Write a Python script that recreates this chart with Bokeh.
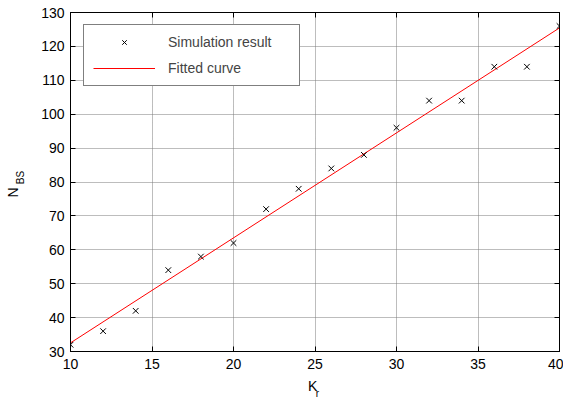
import numpy as np
from bokeh.plotting import figure
from bokeh.models import (Range1d, LinearAxis, Legend, LegendItem,
                          FixedTicker, CustomJSTickFormatter)
from bokeh.embed import file_html
from bokeh.resources import INLINE

# ---- data ----
kr = [10, 12, 14, 16, 18, 20, 22, 24, 26, 28, 30, 32, 34, 36, 38, 40]
nbs = [32, 36, 42, 54, 58, 62, 72, 78, 84, 88, 96, 104, 104, 114, 114, 126]
x_ticks = [10, 15, 20, 25, 30, 35, 40]
y_ticks = [30, 40, 50, 60, 70, 80, 90, 100, 110, 120, 130]

coef = np.polyfit(kr, nbs, 1)
fit_x = [kr[0], kr[-1]]
fit_y = [float(np.polyval(coef, v)) for v in fit_x]

FONT = "Liberation Sans"

p = figure(frame_width=489, frame_height=339, output_backend="svg",
           toolbar_location=None, x_range=Range1d(10, 40), y_range=Range1d(30, 130),
           min_border_left=70, min_border_top=12, min_border_right=4,
           min_border_bottom=50)
p.background_fill_color = "white"
p.border_fill_color = "white"
p.outline_line_color = "black"
p.outline_line_width = 1

for ax in (p.xaxis[0], p.yaxis[0]):
    ax.major_tick_in = 5
    ax.major_tick_out = 0
    ax.minor_tick_line_color = None
    ax.axis_line_color = "black"
    ax.major_label_text_font = FONT
    ax.major_label_text_font_size = "14px"
    ax.major_label_text_color = "black"
p.xaxis[0].ticker = FixedTicker(ticks=x_ticks)
p.yaxis[0].ticker = FixedTicker(ticks=y_ticks)
p.xaxis[0].major_label_standoff = 7
p.yaxis[0].major_label_standoff = 6

top = LinearAxis(ticker=FixedTicker(ticks=x_ticks), major_tick_in=5, major_tick_out=0,
                 minor_tick_line_color=None,
                 major_label_overrides={t: "" for t in x_ticks},
                 major_label_standoff=0, axis_line_color="black")
right = LinearAxis(ticker=FixedTicker(ticks=y_ticks), major_tick_in=5, major_tick_out=0,
                   minor_tick_line_color=None,
                   major_label_overrides={t: "" for t in y_ticks},
                   major_label_standoff=0, axis_line_color="black")
p.add_layout(top, "above")
p.add_layout(right, "right")


def label_axis(text, pos, size, standoff, vertical):
    ax = LinearAxis(ticker=FixedTicker(ticks=[pos]),
                    formatter=CustomJSTickFormatter(code="return '%s';" % text),
                    axis_line_color=None, major_tick_line_color=None,
                    minor_tick_line_color=None, major_tick_in=0, major_tick_out=0,
                    major_label_standoff=standoff,
                    major_label_text_font=FONT, major_label_text_font_size=size,
                    major_label_text_color="black")
    if vertical:
        ax.major_label_orientation = "vertical"
    return ax


# y label N_BS : subscript column first (closer to frame), then N
p.add_layout(label_axis("BS", 81.3, "10px", 12, True), "left")
p.add_layout(label_axis("N", 76.9, "14px", -9, True), "left")
# x label K_r
p.add_layout(label_axis("K", 24.85, "14px", 6, False), "below")
p.add_layout(label_axis("r", 25.15, "10px", -9, False), "below")

p.xgrid.ticker = FixedTicker(ticks=x_ticks)
p.ygrid.ticker = FixedTicker(ticks=y_ticks)
for g in (p.xgrid[0], p.ygrid[0]):
    g.grid_line_color = "#7a7a7a"
    g.grid_line_dash = "1 1"
    g.grid_line_width = 1

r_fit = p.line(fit_x, fit_y, line_color="red", line_width=1)
r_sim = p.scatter(kr, nbs, marker="x", size=8, line_color="black", line_width=1)

legend = Legend(items=[LegendItem(label="Simulation result", renderers=[r_sim]),
                       LegendItem(label="Fitted curve", renderers=[r_fit])],
                location=(13, 265), padding=9, glyph_width=62, glyph_height=16,
                spacing=10, label_standoff=13, label_width=122,
                label_text_font=FONT, label_text_font_size="14px",
                border_line_color="black", border_line_width=1,
                background_fill_alpha=1.0, margin=0)
p.add_layout(legend, "center")

open("out.html", "w").write(file_html(p, INLINE))
